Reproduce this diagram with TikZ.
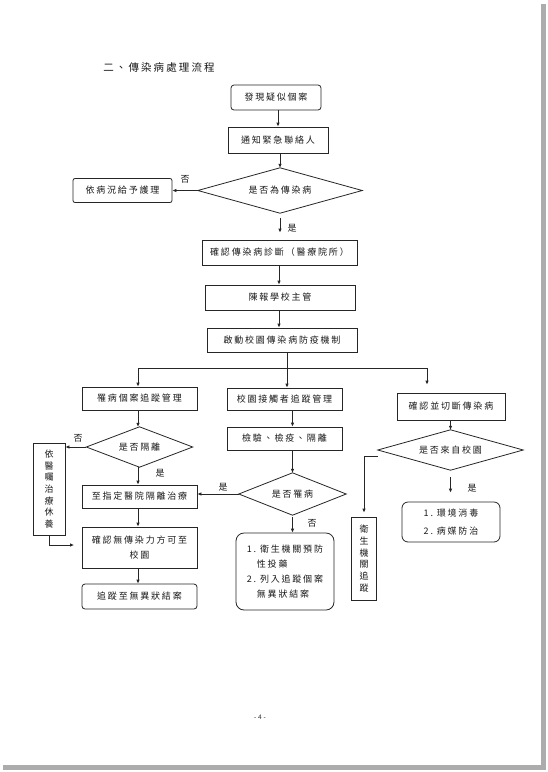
\documentclass[tikz,border=0pt]{standalone}
\usepackage{fontspec}
\setmainfont{Liberation Serif}
\newfontfamily\cjk[LetterSpace=20]{Noto Sans CJK TC}
\newfontfamily\pnfont{Liberation Sans}
\usetikzlibrary{arrows.meta,calc}
\newcommand\cjkf{\cjk\fontsize{9}{11}\selectfont}
\tikzset{
  base/.style={draw=black!85, line width=0.8pt, inner sep=0pt, text=black!90, font=\cjkf},
  sbox/.style={base},
  rbox/.style={base, rounded corners=3pt},
  dnode/.style={inner sep=0pt, text=black!90, font=\cjkf},
  arr/.style={draw=black!85, line width=0.8pt, -{Latex[length=4pt,width=3.6pt]}},
  ln/.style={draw=black!85, line width=0.8pt},
  lbl/.style={font=\cjkf, text=black!90, inner sep=0pt},
  vbox/.style={base, align=center, font=\cjk\fontsize{9}{11.7}\selectfont},
}
\begin{document}
\begin{tikzpicture}[x=1pt,y=-1pt]
\useasboundingbox (0,0) rectangle (547,772);
\fill[white] (0,0) rectangle (547,772);
\fill[gray!65] (541,4) rectangle (546,770);
\fill[gray!65] (3,765) rectangle (546,770);

\node[lbl, font=\cjk\fontsize{10.5}{12}\selectfont] (title) at (159,68) {二、傳染病處理流程};

% top column
\node[rbox, minimum width=90pt, minimum height=25pt] (b1) at (276,97.5) {發現疑似個案};
\node[sbox, minimum width=100pt, minimum height=26pt] (b2) at (278,140) {通知緊急聯絡人};
\node[dnode, minimum width=164pt, minimum height=45pt] (d1) at (280,190.5) {是否為傳染病};
\draw[ln] (d1.north) -- (d1.east) -- (d1.south) -- (d1.west) -- cycle;
\node[rbox, rounded corners=2pt, minimum width=99pt, minimum height=24pt] (c1) at (122.5,190.5) {依病況給予護理};
\node[sbox, minimum width=155pt, minimum height=25pt] (b3) at (279.5,252.5) {確認傳染病診斷（醫療院所）};
\node[sbox, minimum width=150pt, minimum height=25pt] (b4) at (280,297.5) {陳報學校主管};
\node[sbox, minimum width=150pt, minimum height=24pt] (b5) at (282,340) {啟動校園傳染病防疫機制};

\draw[arr] (b1.south -| b2) -- (b2.north);
\draw[arr] (b2.south -| d1.north) -- (d1.north);
\draw[arr] (d1.west) -- (c1.east);
\node[lbl] (no1) at (185,179) {否};
\draw[arr, shorten <=5pt, shorten >=7pt] (d1.south) -- (d1.south |- b3.north);
\node[lbl] (yes1) at (292,228) {是};
\draw[arr] (b3.south -| 279,0) -- (b4.north -| 279,0);
\draw[arr] (b4.south -| 279,0) -- (b5.north -| 279,0);

% trunk
\coordinate (j) at (287,368);
\coordinate (jl) at (138,368);
\coordinate (jr) at (427,368);
\draw[ln] (b5.south -| j) -- (j);
\draw[ln] (jl) -- (jr);

% left column
\node[sbox, minimum width=115pt, minimum height=23pt] (L1) at (139.5,398.5) {罹病個案追蹤管理};
\node[dnode, minimum width=106pt, minimum height=40pt] (LD) at (139.5,447) {是否隔離};
\draw[ln] (LD.north) -- (LD.east) -- (LD.south) -- (LD.west) -- cycle;
\node[vbox, minimum width=32pt, minimum height=92pt] (LV) at (49,489) {依\\醫\\囑\\治\\療\\休\\養};
\node[sbox, minimum width=115pt, minimum height=23pt] (L2) at (139.5,496.5) {至指定醫院隔離治療};
\node[sbox, minimum width=115pt, minimum height=41pt, align=center, font=\cjk\fontsize{9}{15}\selectfont] (L3) at (139.5,547.5) {確認無傳染力方可至\\校園};
\node[rbox, minimum width=115pt, minimum height=25pt] (L4) at (139.5,596.5) {追蹤至無異狀結案};

\draw[arr] (jl) -- (L1.north -| jl);
\draw[arr] (L1.south -| jl) -- (LD.north -| jl);
\draw[arr] (LD.west) -- (LD.west -| LV.east);
\node[lbl] (no2) at (78,438) {否};
\draw[arr] (LD.south -| jl) -- (L2.north -| jl);
\node[lbl] (yes2) at (160,473) {是};
\draw[arr] (L2.south -| jl) -- (L3.north -| jl);
\draw[arr] (L3.south -| jl) -- (L4.north -| jl);
\coordinate (lk) at (74,545);
\draw[arr] (LV.south) |- (lk);

% middle column
\node[sbox, minimum width=115pt, minimum height=22pt] (M1) at (284.5,399) {校園接觸者追蹤管理};
\node[sbox, minimum width=115pt, minimum height=23pt] (M2) at (284.5,438.5) {檢驗、檢疫、隔離};
\node[dnode, minimum width=107pt, minimum height=42pt] (MD) at (292.5,494) {是否罹病};
\draw[ln] (MD.north) -- (MD.east) -- (MD.south) -- (MD.west) -- cycle;
\node[rbox, rounded corners=8pt, minimum width=98pt, minimum height=77pt, align=left, font=\cjk\fontsize{9}{15}\selectfont] (M3) at (285,571.5)
  {1.~衛生機關預防\\\hspace*{10pt}性投藥\\2.~列入追蹤個案\\\hspace*{10pt}無異狀結案};

\draw[arr] (j) -- (M1.north -| j);
\draw[arr] (M1.south -| MD) -- (M2.north -| MD);
\draw[arr] (M2.south -| MD) -- (MD.north);
\draw[arr] (MD.west) -- (MD.west -| L2.east);
\node[lbl] (yes3) at (223,487) {是};
\draw[arr, shorten <=2pt] (MD.south) -- (MD.south |- M3.north);
\node[lbl] (no3) at (312,523) {否};

% right column
\node[sbox, minimum width=108pt, minimum height=27pt] (R1) at (451,406.5) {確認並切斷傳染病};
\node[dnode, minimum width=145pt, minimum height=40pt] (RD) at (450.5,450) {是否來自校園};
\draw[ln] (RD.north) -- (RD.east) -- (RD.south) -- (RD.west) -- cycle;
\node[vbox, minimum width=25pt, minimum height=83pt] (RV) at (364,558.5) {衛\\生\\機\\關\\追\\蹤};
\node[rbox, rounded corners=6pt, minimum width=98pt, minimum height=40pt, align=left, font=\cjk\fontsize{9}{18}\selectfont] (RB) at (451,522) {1.~環境消毒\\2.~病媒防治};

\draw[arr, shorten >=8pt] (jr) -- (R1.north -| jr);
\draw[arr] (R1.south -| RD) -- (RD.north);
\draw[arr, shorten >=4pt] ($(RD.west)+(0,6)$) -| (RV.north);
\draw[arr, shorten <=7pt, shorten >=9pt] (RD.south) -- (RD.south |- RB.north);
\node[lbl] (yes4) at (472,488) {是};

\node[font=\pnfont\fontsize{6.5}{8}\selectfont, text=black!85, inner sep=0pt] (pn) at (260,717) {- 4 -};
\end{tikzpicture}
\end{document}
